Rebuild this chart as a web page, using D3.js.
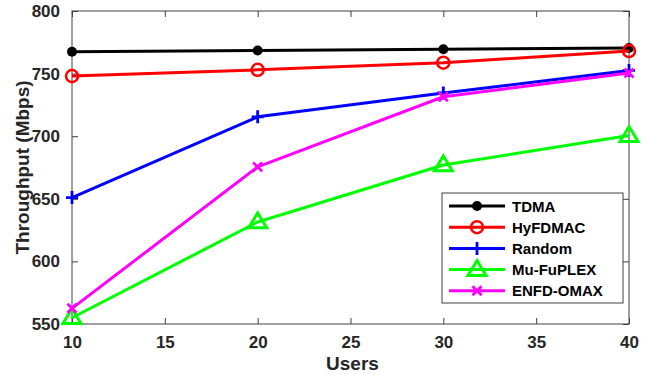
<!DOCTYPE html>
<html><head><meta charset="utf-8">
<script src="https://cdn.jsdelivr.net/npm/d3@7"></script>
<style>body{margin:0;background:#fff}svg{display:block}text{font-family:"Liberation Sans",Arial,sans-serif;font-weight:bold}</style>
</head><body><svg id="c" width="652" height="375"></svg>
<script>
const users = [10, 20, 30, 40];
const seriesNames = ["TDMA", "HyFDMAC", "Random", "Mu-FuPLEX", "ENFD-OMAX"];
const tdma = [767.5, 768.5, 769.5, 770.5];
const hyfdmac = [748, 753, 758.7, 768];
const random = [651, 715.5, 734.5, 752.5];
const mufuplex = [555, 631.5, 677, 700.5];
const enfdomax = [562.5, 675.5, 731.5, 750.5];
const xTicks = [10, 15, 20, 25, 30, 35, 40];
const yTicks = [550, 600, 650, 700, 750, 800];
const colors = ["#000000", "#ff0000", "#0000ff", "#00ff00", "#ff00ff"];
const markers = ["dot", "circle", "plus", "triangle", "cross"];
const values = [tdma, hyfdmac, random, mufuplex, enfdomax];

const svg = d3.select("#c");
const L = 72, R = 629, T = 11, B = 324;
const x = d3.scaleLinear().domain([10, 40]).range([L, R]);
const y = d3.scaleLinear().domain([550, 800]).range([B, T]);
const axisColor = "#404040", textColor = "#262626";

const g = svg.append("g");
function styleAxis(sel){
  sel.select(".domain").remove();
  sel.selectAll("line").attr("stroke", axisColor).attr("stroke-width", 1);
  sel.selectAll("text").attr("fill", textColor).style("font-size", "17px");
}
g.append("g").attr("transform", `translate(0,${B})`)
  .call(d3.axisBottom(x).tickValues(xTicks).tickSize(-6).tickPadding(12).tickFormat(d3.format("d")))
  .call(styleAxis);
g.append("g").attr("transform", `translate(0,${T})`)
  .call(d3.axisTop(x).tickValues(xTicks).tickSize(-6).tickFormat(""))
  .call(styleAxis);
g.append("g").attr("transform", `translate(${L},0)`)
  .call(d3.axisLeft(y).tickValues(yTicks).tickSize(-6).tickPadding(12).tickFormat(d3.format("d")))
  .call(styleAxis);
g.append("g").attr("transform", `translate(${R},0)`)
  .call(d3.axisRight(y).tickValues(yTicks).tickSize(-6).tickFormat(""))
  .call(styleAxis);
g.append("rect").attr("x", L).attr("y", T).attr("width", R - L).attr("height", B - T)
  .attr("fill", "none").attr("stroke", axisColor).attr("stroke-width", 1);

svg.append("text").attr("x", (L + R) / 2 + 2).attr("y", 370).attr("text-anchor", "middle")
  .attr("fill", textColor).style("font-size", "19px").text("Users");
svg.append("text").attr("transform", `translate(29,${(T + B) / 2}) rotate(-90)`).attr("text-anchor", "middle")
  .attr("fill", textColor).style("font-size", "19px").text("Throughput (Mbps)");

function drawMarker(sel, type, color, cx, cy){
  if (type === "dot") {
    sel.append("circle").attr("cx", cx).attr("cy", cy).attr("r", 5).attr("fill", color);
  } else if (type === "circle") {
    sel.append("circle").attr("cx", cx).attr("cy", cy).attr("r", 6).attr("fill", "none")
      .attr("stroke", color).attr("stroke-width", 2.5);
  } else if (type === "plus") {
    sel.append("path").attr("d", `M${cx-6},${cy}H${cx+6}M${cx},${cy-6.5}V${cy+6.5}`)
      .attr("stroke", color).attr("stroke-width", 2.8).attr("fill", "none");
  } else if (type === "triangle") {
    const s = 9;
    sel.append("path").attr("d", `M${cx},${cy-s}L${cx+s},${cy+s*0.65}L${cx-s},${cy+s*0.65}Z`)
      .attr("stroke", color).attr("stroke-width", 3).attr("fill", "none").attr("stroke-linejoin", "miter");
  } else if (type === "cross") {
    const s = 4.5;
    sel.append("path").attr("d", `M${cx-s},${cy-s}L${cx+s},${cy+s}M${cx-s},${cy+s}L${cx+s},${cy-s}`)
      .attr("stroke", color).attr("stroke-width", 2.8).attr("fill", "none");
  }
}

const line = d3.line().x((d, i) => x(users[i])).y(d => y(d));
values.forEach((vals, k) => {
  const sg = svg.append("g");
  sg.append("path").datum(vals).attr("d", line).attr("fill", "none")
    .attr("stroke", colors[k]).attr("stroke-width", 3).attr("stroke-linejoin", "round");
  vals.forEach((v, i) => drawMarker(sg, markers[k], colors[k], x(users[i]), y(v)));
});

const lx = 442, ly = 193, lw = 181, lh = 110;
const lg = svg.append("g");
lg.append("rect").attr("x", lx).attr("y", ly).attr("width", lw).attr("height", lh)
  .attr("fill", "#fff").attr("stroke", axisColor).attr("stroke-width", 1);
seriesNames.forEach((name, k) => {
  const yy = 206 + k * 21.2;
  lg.append("line").attr("x1", 449).attr("x2", 505).attr("y1", yy).attr("y2", yy)
    .attr("stroke", colors[k]).attr("stroke-width", 3);
  drawMarker(lg, markers[k], colors[k], 477, yy);
  lg.append("text").attr("x", 512).attr("y", yy + 5.5).attr("fill", "#000")
    .style("font-size", "15px").text(name);
});
</script></body></html>
